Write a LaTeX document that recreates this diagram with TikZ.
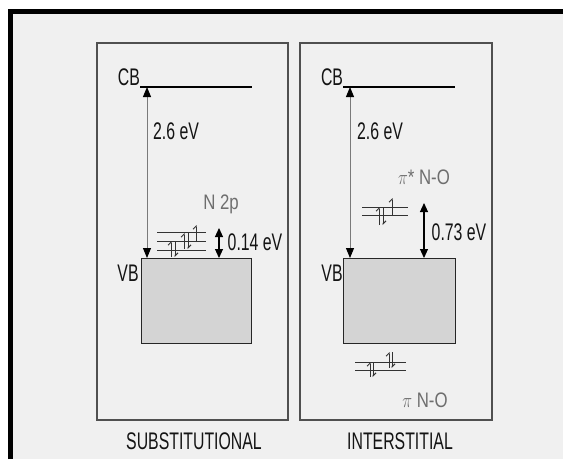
\documentclass[tikz,border=0pt]{standalone}
\usepackage{fontspec}
\usepackage{graphicx}
\setmainfont{Liberation Sans}
\usetikzlibrary{arrows.meta}
\definecolor{bg}{HTML}{F0F0F0}
\definecolor{boxfill}{HTML}{D4D4D4}
\definecolor{frameg}{HTML}{505050}
\definecolor{txt}{HTML}{141414}
\definecolor{graytxt}{HTML}{6E6E6E}
\definecolor{shaft}{HTML}{7A7A7A}
\newcommand\nt[1]{\scalebox{0.66}[1]{#1}}
\newcommand\gt[1]{\scalebox{0.8}[1]{#1}}
\tikzset{
  lbl/.style={inner sep=0pt, text=txt, font=\fontsize{24}{26}\selectfont},
  glbl/.style={inner sep=0pt, text=graytxt, font=\fontsize{21}{23}\selectfont},
  panel/.style={draw=frameg, line width=1.3pt},
  vbbox/.style={draw=black!85, fill=boxfill, line width=1.1pt},
  level/.style={draw=black!80, line width=0.9pt},
  gaparrow/.style={draw=shaft, line width=1pt, {Triangle[length=10pt,width=8pt,color=black]}-{Triangle[length=10pt,width=8pt,color=black]}},
  smallarrow/.style={draw=black, line width=1.1pt, {Triangle[length=9pt,width=8pt,color=black]}-{Triangle[length=9pt,width=8pt,color=black]}},
  spin/.style={draw=black!80, line width=1pt, -{Straight Barb[left,length=3pt,width=6pt]}}
}
\begin{document}
\begin{tikzpicture}[x=1pt,y=-1pt]
\useasboundingbox (0,0) rectangle (563,459);
\fill[white] (0,0) rectangle (563,459);
\fill[bg] (10,11) rectangle (563,459);
\draw[black, line width=4.8pt] (10.6,459) -- (10.6,11.8) -- (563,11.8);
% panels
\draw[panel] (97,43) rectangle (288,420);
\draw[panel] (300,43) rectangle (492,420);
% ---------- left panel ----------
\coordinate (cbL1) at (140,87);
\coordinate (cbL2) at (252,87);
\draw[line width=1.2pt] (cbL1) -- (cbL2);
\node[lbl] (cbLt) at (129,77) {\nt{CB}};
\node[vbbox, minimum width=110pt, minimum height=85pt, anchor=north west] (vbL) at (141,258) {};
\node[lbl] (vbLt) at (128,273) {\nt{VB}};
\coordinate (aLtop) at (147,87);
\coordinate (aLbot) at (147,258);
\draw[gaparrow] (aLtop) -- (aLbot);
\node[lbl] (gapL) at (176,131) {\nt{2.6 eV}};
% N 2p levels
\foreach \yy in {232,241,250} \draw[level] (157,\yy) -- (206,\yy);
\draw[spin] (171,257) -- (171,241);
\draw[spin] (175,241) -- (175,257);
\draw[spin] (184,249) -- (184,233);
\draw[spin] (188,233) -- (188,249);
\draw[spin] (196,242) -- (196,225);
\node[glbl] (n2p) at (221,204) {\gt{N 2p}};
\coordinate (sTop) at (219,228);
\coordinate (sBot) at (219,258);
\draw[smallarrow] (sTop) -- (sBot);
\node[lbl] (g014) at (255,242) {\nt{0.14 eV}};
\node[lbl] (subst) at (194,441) {\nt{SUBSTITUTIONAL}};
% ---------- right panel ----------
\coordinate (cbR1) at (343,87);
\coordinate (cbR2) at (455,87);
\draw[line width=1.2pt] (cbR1) -- (cbR2);
\node[lbl] (cbRt) at (332,77) {\nt{CB}};
\node[vbbox, minimum width=112pt, minimum height=85pt, anchor=north west] (vbR) at (343,258) {};
\node[lbl] (vbRt) at (332,273) {\nt{VB}};
\coordinate (aRtop) at (350,87);
\coordinate (aRbot) at (350,258);
\draw[gaparrow] (aRtop) -- (aRbot);
\node[lbl] (gapR) at (380,131) {\nt{2.6 eV}};
% pi* levels
\foreach \yy in {207,215} \draw[level] (362,\yy) -- (408,\yy);
\draw[spin] (379,225) -- (379,207);
\draw[spin] (383,207) -- (383,225);
\draw[spin] (392,216) -- (392,198);
\node[glbl] (pistar) at (424,177) {\gt{$\pi$* N-O}};
\coordinate (tTop) at (424,203);
\coordinate (tBot) at (424,258);
\draw[smallarrow] (tTop) -- (tBot);
\node[lbl] (g073) at (459,232) {\nt{0.73 eV}};
% pi levels
\foreach \yy in {362,370} \draw[level] (355,\yy) -- (406,\yy);
\draw[spin] (370,377) -- (370,362);
\draw[spin] (373,362) -- (373,377);
\draw[spin] (389,368) -- (389,352);
\draw[spin] (392,352) -- (392,368);
\node[glbl] (pi) at (425,400) {\gt{$\pi$ N-O}};
\node[lbl] (inter) at (400,441) {\nt{INTERSTITIAL}};
\end{tikzpicture}
\end{document}
